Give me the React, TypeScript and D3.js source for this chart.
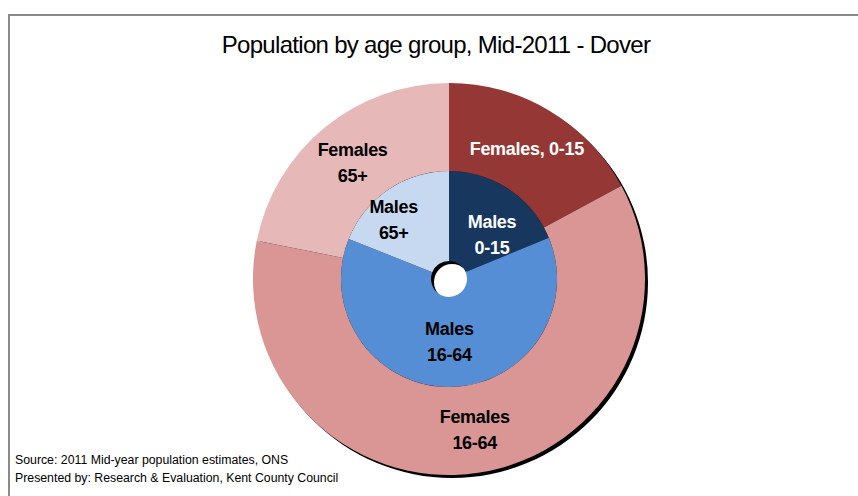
import React from "react";
import * as d3 from "d3";

// ---- data ----
const ageGroups = ["0-15", "16-64", "65+"];
const malesPop = [10300, 34200, 10400];
const femalesPop = [9700, 34600, 12400];
const maleLabels = [["Males", "0-15"], ["Males", "16-64"], ["Males", "65+"]];
const femaleLabels = [["Females, 0-15"], ["Females", "16-64"], ["Females", "65+"]];
const titleText = "Population by age group, Mid-2011 - Dover";
const sourceLines = [
  "Source: 2011 Mid-year population estimates, ONS",
  "Presented by: Research & Evaluation, Kent County Council",
];

// ---- styles ----
const maleColors = ["#17375E", "#558ED5", "#C6D9F1"];
const femaleColors = ["#953735", "#D99694", "#E6B9B8"];
const maleText = ["#ffffff", "#000000", "#000000"];
const femaleText = ["#ffffff", "#000000", "#000000"];
const maleNudge = [[8, 8], [0, 0], [-20, -7]];
const femaleNudge = [[0, 0], [3, 0], [0, 1]];

const W = 858;
const H = 496;
const cx = 449;
const cy = 279;
const R = 196;
const rHole = 18;
const rMid = 108;

export default function App() {
  const pie = d3.pie<number>().sort(null).value((d) => d);
  const maleArcs = pie(malesPop);
  const femaleArcs = pie(femalesPop);
  const innerArc = d3.arc<d3.PieArcDatum<number>>().innerRadius(rHole).outerRadius(rMid);
  const outerArc = d3.arc<d3.PieArcDatum<number>>().innerRadius(rMid).outerRadius(R);
  const shadowArc = d3.arc()({ innerRadius: rHole, outerRadius: R, startAngle: 0, endAngle: 2 * Math.PI } as any) as string;

  const font = "'Liberation Sans', Arial, sans-serif";

  const renderLabel = (lines: string[], c: [number, number], nudge: number[], color: string, key: string) => {
    const x = c[0] + nudge[0];
    const y = c[1] + nudge[1];
    const lh = 26;
    const n = lines.length;
    return (
      <text key={key} x={x} textAnchor="middle" fontFamily={font} fontWeight="bold" fontSize={18} fill={color} letterSpacing={-0.3}>
        {lines.map((l, i) => (
          <tspan key={i} x={x} y={y - ((n - 1) * lh) / 2 + i * lh + 6.5}>
            {l}
          </tspan>
        ))}
      </text>
    );
  };

  return (
    <svg width={W} height={H} style={{ position: "absolute", left: 0, top: 0, background: "#fff" }}>
      <rect x={0} y={0} width={W} height={H} fill="#ffffff" />
      <rect x={9} y={15} width={W + 40} height={H + 40} fill="none" stroke="#8a8a8a" strokeWidth={2} />
      <text x={436} y={53} textAnchor="middle" fontFamily={font} fontSize={24} fill="#000" letterSpacing={-0.7}>
        {titleText}
      </text>
      <g transform={`translate(${cx},${cy})`}>
        <path d={shadowArc} transform="translate(3,3)" fill="#000" />
        {maleArcs.map((a, i) => (
          <path key={"m" + ageGroups[i]} d={innerArc(a) as string} fill={maleColors[i]} />
        ))}
        {femaleArcs.map((a, i) => (
          <path key={"f" + ageGroups[i]} d={outerArc(a) as string} fill={femaleColors[i]} />
        ))}
        {femaleArcs.map((a, i) =>
          renderLabel(femaleLabels[i], outerArc.centroid(a) as [number, number], femaleNudge[i], femaleText[i], "fl" + i)
        )}
        {maleArcs.map((a, i) =>
          renderLabel(maleLabels[i], innerArc.centroid(a) as [number, number], maleNudge[i], maleText[i], "ml" + i)
        )}
      </g>
      {sourceLines.map((s, i) => (
        <text key={i} x={15} y={464 + i * 18} fontFamily={font} fontSize={12.3} fill="#000">
          {s}
        </text>
      ))}
    </svg>
  );
}
